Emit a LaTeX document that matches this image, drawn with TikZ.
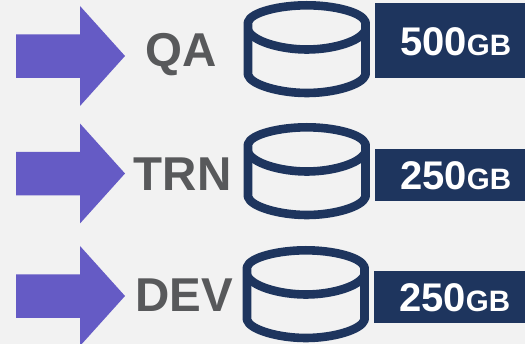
\documentclass[tikz,border=0pt]{standalone}
\usepackage{fontspec}
\setmainfont{Liberation Sans}
\definecolor{bgc}{HTML}{F2F2F2}
\definecolor{arrowc}{HTML}{655BC5}
\definecolor{navyc}{HTML}{1E355E}
\definecolor{labelc}{HTML}{58595B}
\tikzset{
  arrowshape/.style={fill=arrowc,draw=none},
  cyl/.style={draw=navyc,line width=8.6pt,line join=round,fill=none},
  sizebox/.style={fill=navyc,draw=none},
  envlabel/.style={text=labelc,font=\bfseries\fontsize{47.5}{47.5}\selectfont,anchor=base,inner sep=0pt},
  sizelabel/.style={text=white,anchor=base west,inner sep=0pt,font=\bfseries\fontsize{40}{40}\selectfont},
}
\newcommand{\gbunit}{{\fontsize{29.5}{29.5}\selectfont GB}}
\newcommand{\arrowat}[1]{%
  \path[arrowshape,shift={(0,#1)}] (16,34.5) -- (80,34.5) -- (80,6) -- (125,56) -- (80,106) -- (80,78) -- (16,78) -- cycle;}
\newcommand{\cylat}[2]{%
  \begin{scope}[shift={(#1,#2)}]
    \draw[cyl] (248,22) .. controls (251,12) and (280,5.3) .. (306.8,5.3) .. controls (334,5.3) and (362,12) .. (365.5,22) -- (365.5,75)
      .. controls (362,85) and (334,93) .. (306.8,93) .. controls (280,93) and (251,85) .. (248,75) -- cycle;
    \draw[cyl] (248,30) .. controls (252,41) and (280,49.5) .. (306.8,49.5) .. controls (334,49.5) and (361,41) .. (365.5,30);
  \end{scope}}
\begin{document}
\begin{tikzpicture}[x=1pt,y=-1pt]
\useasboundingbox (0,0) rectangle (525,344);
\fill[bgc] (0,0) rectangle (525,344);
\arrowat{0}
\arrowat{117.5}
\arrowat{240}
\cylat{0}{0}
\cylat{0}{122}
\cylat{-1}{245}
\fill[sizebox] (375,3) rectangle (525,78);
\fill[sizebox] (375,149) rectangle (525,201);
\fill[sizebox] (374,271) rectangle (525,323);
\node[envlabel] (qa) at (181.5,67) {QA};
\node[envlabel] (trn) at (182.5,191) {TRN};
\node[envlabel] (dev) at (184.5,312) {DEV};
\node[sizelabel] (s1) at (400,56) {500\gbunit};
\node[sizelabel] (s2) at (400,190) {250\gbunit};
\node[sizelabel] (s3) at (399,312) {250\gbunit};
\end{tikzpicture}
\end{document}
